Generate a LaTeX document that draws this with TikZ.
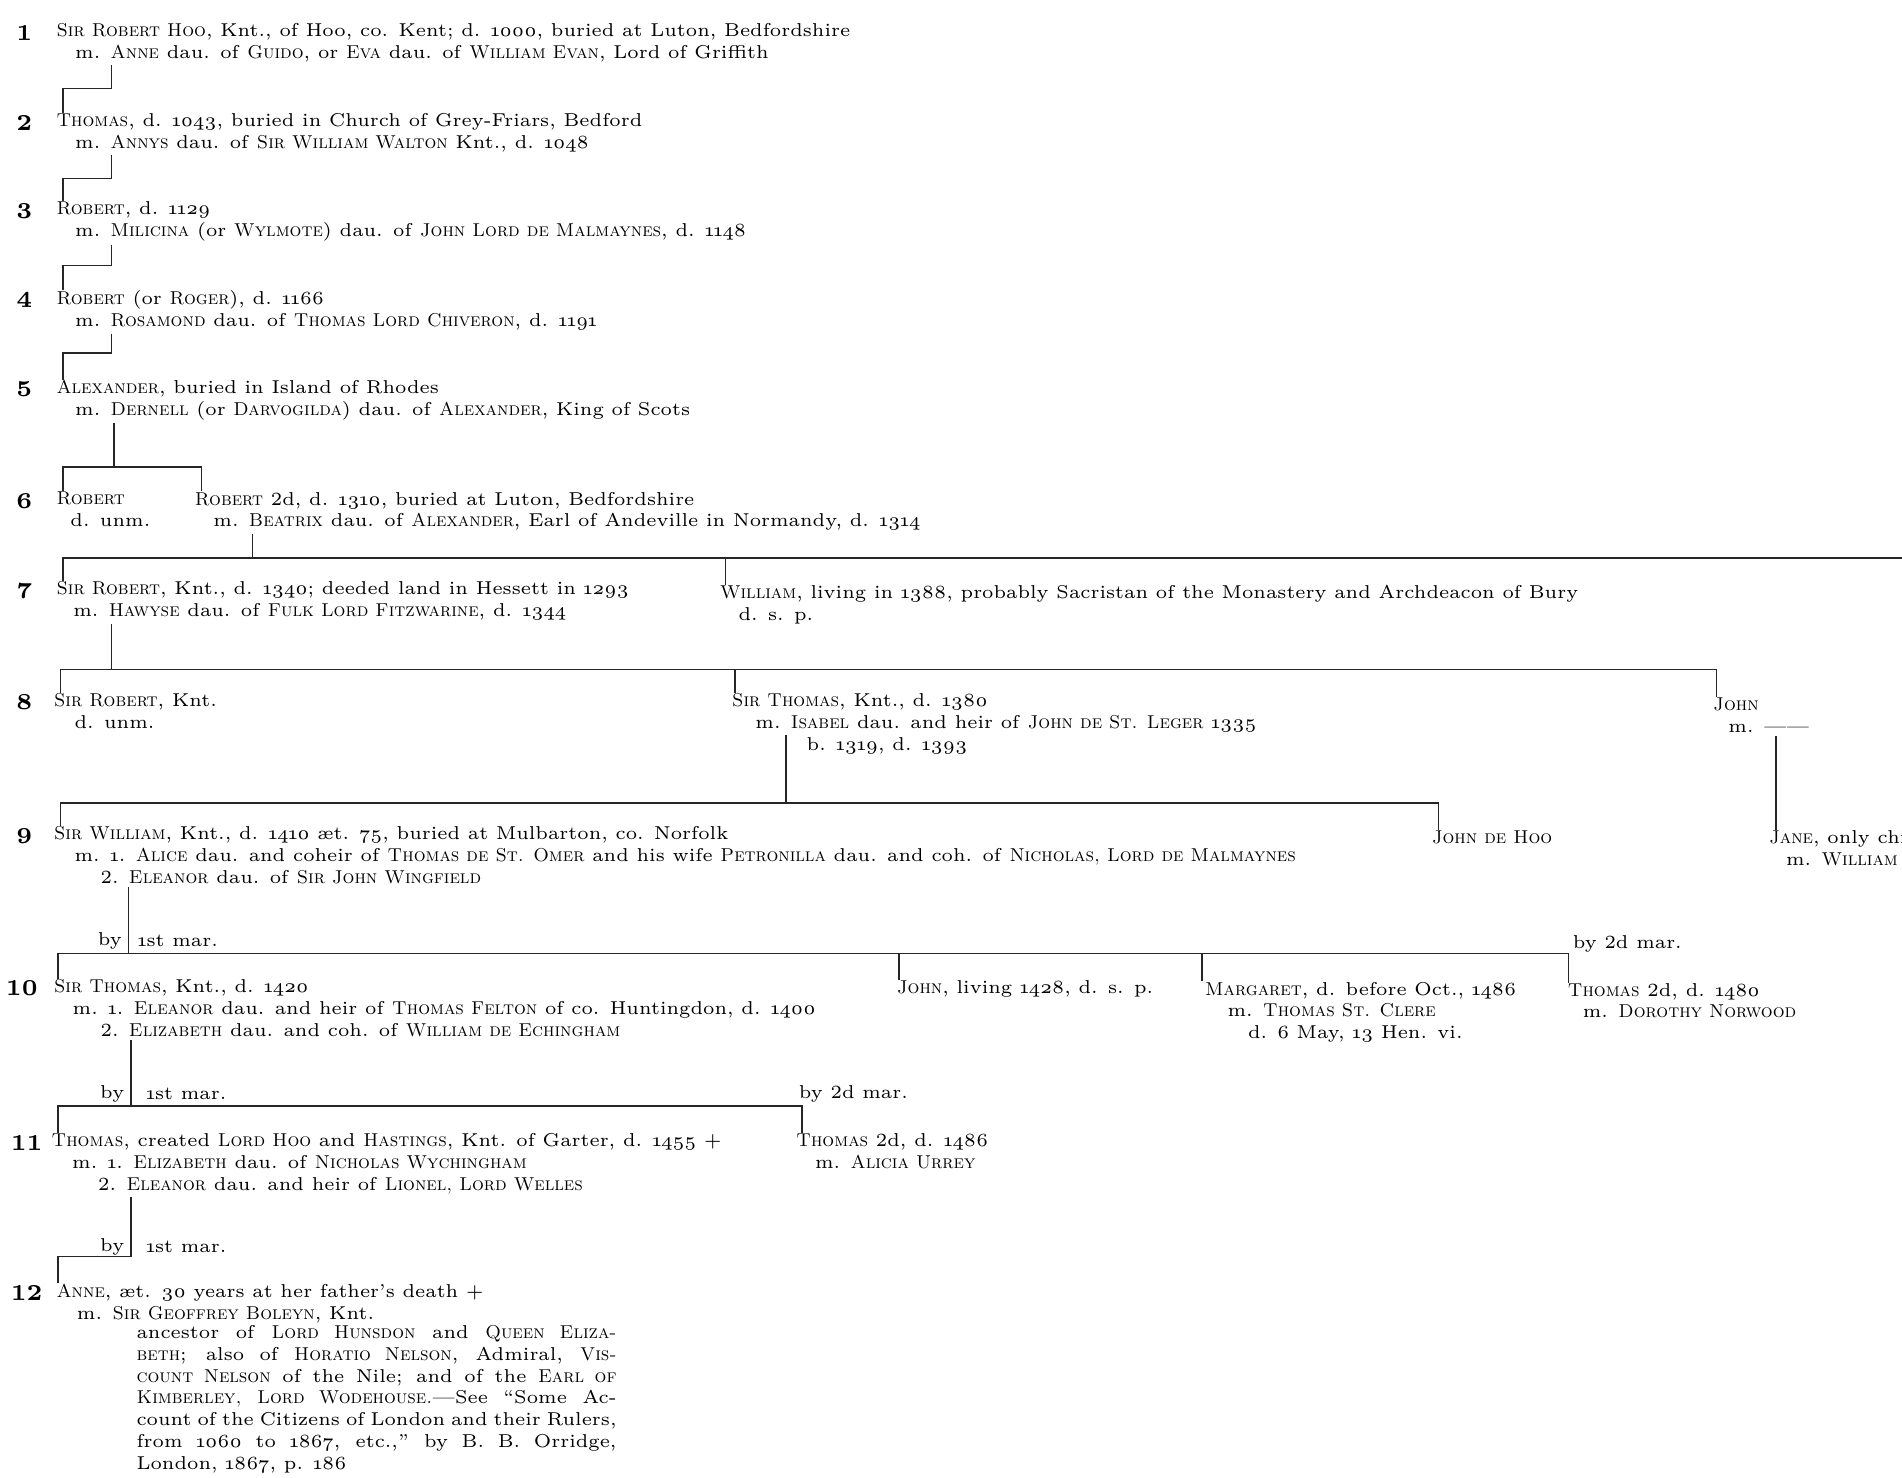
\documentclass[tikz,border=0pt]{standalone}
\usepackage{fontspec}
\setmainfont{lmroman6-regular}[Extension=.otf, BoldFont=lmroman6-bold, SmallCapsFont=lmromancaps10-regular, Ligatures=TeX]
\usepackage{tikz}
\usetikzlibrary{calc}
\newcommand{\os}[1]{\oldstylenums{#1}}
\newcommand{\entryfont}{\fontsize{5.3}{6.2}\selectfont}
\newcommand{\genfont}{\fontsize{6.5}{7}\selectfont\bfseries}
\newcommand{\jline}[1]{\makebox[4.8cm][s]{#1}}

\begin{document}
\begin{tikzpicture}[x=0.01213cm, y=-0.01213cm,
        person/.style={anchor=north west, inner sep=0pt, align=left, font=\entryfont},
        gen/.style={inner sep=0pt, font=\genfont},
        lbl/.style={inner sep=0pt, font=\entryfont},
        note/.style={anchor=north west, inner sep=0pt, align=left, font=\entryfont},
        rule/.style={line width=0.45pt, draw=black!85}
      ]
        \useasboundingbox (0,-3) rectangle (1568,1215);

        % Generation numbers
        \foreach \g/\x/\y in {1/20/24, 2/20/98, 3/20/171, 4/20/244, 5/20/318, 6/20/410,
                              7/20/484, 8/20/576, 9/20/686, 10/18/812, 11/22/939, 12/22/1063}
          \node (g\g) [gen] at (\x,\y) {\g};

        % Generations 1 to 5
        \node (p1) [person] at (46,16) {\textsc{Sir Robert Hoo}, Knt., of Hoo, co. Kent; d. \os{1000}, buried at Luton, Bedfordshire\\
          \hspace*{1em}m. \textsc{Anne} dau. of \textsc{Guido}, or \textsc{Eva} dau. of \textsc{William Evan}, Lord of Griffith};
        \node (p2) [person] at (46,90) {\textsc{Thomas}, d. \os{1043}, buried in Church of Grey-Friars, Bedford\\
          \hspace*{1em}m. \textsc{Annys} dau. of \textsc{Sir William Walton} Knt., d. \os{1048}};
        \node (p3) [person] at (46,163) {\textsc{Robert}, d. \os{1129}\\
          \hspace*{1em}m. \textsc{Milicina} (or \textsc{Wylmote}) dau. of \textsc{John Lord de Malmaynes}, d. \os{1148}};
        \node (p4) [person] at (46,236) {\textsc{Robert} (or \textsc{Roger}), d. \os{1166}\\
          \hspace*{1em}m. \textsc{Rosamond} dau. of \textsc{Thomas Lord Chiveron}, d. \os{1191}};
        \node (p5) [person] at (46,310) {\textsc{Alexander}, buried in Island of Rhodes\\
          \hspace*{1em}m. \textsc{Dernell} (or \textsc{Darvogilda}) dau. of \textsc{Alexander}, King of Scots};

        % Generation 6
        \node (p6a) [person] at (46,402) {\textsc{Robert}\\
          \hspace*{0.75em}d. unm.};
        \node (p6b) [person] at (160,402) {\textsc{Robert} 2d, d. \os{1310}, buried at Luton, Bedfordshire\\
          \hspace*{1em}m. \textsc{Beatrix} dau. of \textsc{Alexander}, Earl of Andeville in Normandy, d. \os{1314}};

        % Generation 7
        \node (p7a) [person] at (46,476) {\textsc{Sir Robert}, Knt., d. \os{1340}; deeded land in Hessett in \os{1293}\\
          \hspace*{0.9em}m. \textsc{Hawyse} dau. of \textsc{Fulk Lord Fitzwarine}, d. \os{1344}};
        \node (p7b) [person] at (593,479) {\textsc{William}, living in \os{1388}, probably Sacristan of the Monastery and Archdeacon of Bury\\
          \hspace*{1em}d. s. p.};

        % Generation 8
        \node (p8a) [person] at (44,568) {\textsc{Sir Robert}, Knt.\\
          \hspace*{1.1em}d. unm.};
        \node (p8b) [person] at (603,568) {\textsc{Sir Thomas}, Knt., d. \os{1380}\\
          \hspace*{1.25em}m. \textsc{Isabel} dau. and heir of \textsc{John de St. Leger} \os{1335}\\
          \hspace*{4em}b. \os{1319}, d. \os{1393}};
        \node (p8c) [person] at (1412,572) {\textsc{John}\\
          \hspace*{0.8em}m. ------};

        % Generation 9
        \node (p9a) [person] at (44,678) {\textsc{Sir William}, Knt., d. \os{1410} æt. \os{75}, buried at Mulbarton, co. Norfolk\\
          \hspace*{1.1em}m. \os{1}. \textsc{Alice} dau. and coheir of \textsc{Thomas de St. Omer} and his wife \textsc{Petronilla} dau. and coh. of \textsc{Nicholas, Lord de Malmaynes}\\
          \hspace*{2.5em}2. \textsc{Eleanor} dau. of \textsc{Sir John Wingfield}};
        \node (p9b) [person] at (1180,681) {\textsc{John de Hoo}};
        \node (p9c) [person] at (1458,681) {\textsc{Jane}, only chi\\
          \hspace*{0.9em}m. \textsc{William}};

        % Generation 10
        \node (p10a) [person] at (44,804) {\textsc{Sir Thomas}, Knt., d. \os{1420}\\
          \hspace*{1em}m. \os{1}. \textsc{Eleanor} dau. and heir of \textsc{Thomas Felton} of co. Huntingdon, d. \os{1400}\\
          \hspace*{2.5em}2. \textsc{Elizabeth} dau. and coh. of \textsc{William de Echingham}};
        \node (p10b) [person] at (739,805) {\textsc{John}, living \os{1428}, d. s. p.};
        \node (p10c) [person] at (993,806) {\textsc{Margaret}, d. before Oct., \os{1486}\\
          \hspace*{1.2em}m. \textsc{Thomas St. Clere}\\
          \hspace*{2.3em}d. 6 May, \os{13} Hen. vi.};
        \node (p10d) [person] at (1292,807) {\textsc{Thomas} 2d, d. \os{1480}\\
          \hspace*{0.8em}m. \textsc{Dorothy Norwood}};

        % Generation 11
        \node (p11a) [person] at (42,931) {\textsc{Thomas}, created \textsc{Lord Hoo} and \textsc{Hastings}, Knt. of Garter, d. \os{1455} +\\
          \hspace*{1.1em}m. \os{1}. \textsc{Elizabeth} dau. of \textsc{Nicholas Wychingham}\\
          \hspace*{2.5em}2. \textsc{Eleanor} dau. and heir of \textsc{Lionel, Lord Welles}};
        \node (p11b) [person] at (656,931) {\textsc{Thomas} 2d, d. \os{1486}\\
          \hspace*{1em}m. \textsc{Alicia Urrey}};

        % Generation 12
        \node (p12) [person] at (46,1055) {\textsc{Anne}, æt. \os{30} years at her father's death +\\
          \hspace*{1.1em}m. \textsc{Sir Geoffrey Boleyn}, Knt.};
        \node (p12note) [note] at (112,1089) {\jline{ancestor of \textsc{Lord Hunsdon} and \textsc{Queen Eliza-}}\\
          \jline{\textsc{beth}; also of \textsc{Horatio Nelson}, Admiral, \textsc{Vis-}}\\
          \jline{\textsc{count Nelson} of the Nile; and of the \textsc{Earl of}}\\
          \jline{\textsc{Kimberley, Lord Wodehouse.}---See ``Some Ac-}\\
          \jline{count of the Citizens of London and their Rulers,}\\
          \jline{from \os{1060} to \os{1867}, etc.,'' by B. B. Orridge,}\\
          London, \os{1867}, p. \os{186}};

        % Marriage labels
        \node (by9) [lbl, anchor=east] at (101,773) {by};
        \node (mar9) [lbl, anchor=west] at (113,773) {\os{1}st mar.};
        \node (sec9) [lbl, anchor=west] at (1296,775) {by 2d mar.};
        \node (by10) [lbl, anchor=east] at (103,899) {by};
        \node (mar10) [lbl, anchor=west] at (120,899) {\os{1}st mar.};
        \node (sec10) [lbl, anchor=west] at (658,899) {by 2d mar.};
        \node (by11) [lbl, anchor=east] at (103,1025) {by};
        \node (mar11) [lbl, anchor=west] at (120,1025) {\os{1}st mar.};

        % Junctions
        \coordinate (j1) at (52,70);
        \coordinate (j2) at (52,144);
        \coordinate (j3) at (52,216);
        \coordinate (j4) at (52,288);
        \coordinate (b6l) at (52,382);   \coordinate (b6r) at (166,382);
        \coordinate (b7l) at (52,457);   \coordinate (b7r) at (1568,457);  \coordinate (d7) at (598,457);
        \coordinate (b8l) at (50,549);   \coordinate (b8r) at (1415,549);  \coordinate (d8) at (606,549);
        \coordinate (b9l) at (50,659);   \coordinate (b9r) at (1186,659);
        \coordinate (b10l) at (48,783);  \coordinate (b10r) at (1293,783);
        \coordinate (d10a) at (741,783); \coordinate (d10b) at (991,783);
        \coordinate (b11l) at (48,909);  \coordinate (b11r) at (661,909);
        \coordinate (b12l) at (48,1033);

        % Lines of descent
        \draw [rule] ($(p1.south west)+(46,2)$) |- (j1) -- (j1 |- p2.north);
        \draw [rule] ($(p2.south west)+(46,2)$) |- (j2) -- (j2 |- p3.north);
        \draw [rule] ($(p3.south west)+(46,2)$) |- (j3) -- (j3 |- p4.north);
        \draw [rule] ($(p4.south west)+(46,2)$) |- (j4) -- (j4 |- p5.north);

        \draw [rule] ($(p5.south west)+(48,2)$) coordinate (s5) -- (s5 |- b6l);
        \draw [rule] (b6l |- p6a.north) -- (b6l) -- (b6r) -- (b6r |- p6b.north);

        \draw [rule] ($(p6b.south west)+(48,2)$) coordinate (s6) -- (s6 |- b7l);
        \draw [rule] (b7l |- p7a.north) -- (b7l) -- (b7r);
        \draw [rule] (d7) -- (d7 |- p7b.north);

        \draw [rule] ($(p7a.south west)+(46,2)$) coordinate (s7) -- (s7 |- b8l);
        \draw [rule] (b8l |- p8a.north) -- (b8l) -- (b8r) -- (b8r |- p8c.north);
        \draw [rule] (d8) -- (d8 |- p8b.north);

        \draw [rule] ($(p8b.south west)+(45,-16)$) coordinate (s8) -- (s8 |- b9l);
        \draw [rule] (b9l |- p9a.north) -- (b9l) -- (b9r) -- (b9r |- p9b.north);
        \draw [rule] ($(p8c.south west)+(52,2)$) coordinate (s8c) -- (s8c |- p9c.north);

        \draw [rule] ($(p9a.south west)+(62,2)$) coordinate (s9) -- (s9 |- b10l);
        \draw [rule] (b10l |- p10a.north) -- (b10l) -- (b10r) -- (b10r |- p10d.north);
        \draw [rule] (d10a) -- (d10a |- p10b.north);
        \draw [rule] (d10b) -- (d10b |- p10c.north);

        \draw [rule] ($(p10a.south west)+(64,2)$) coordinate (s10) -- (s10 |- b11l);
        \draw [rule] (b11l |- p11a.north) -- (b11l) -- (b11r) -- (b11r |- p11b.north);

        \draw [rule] ($(p11a.south west)+(66,2)$) |- (b12l) -- (b12l |- p12.north);
      \end{tikzpicture}
\end{document}
